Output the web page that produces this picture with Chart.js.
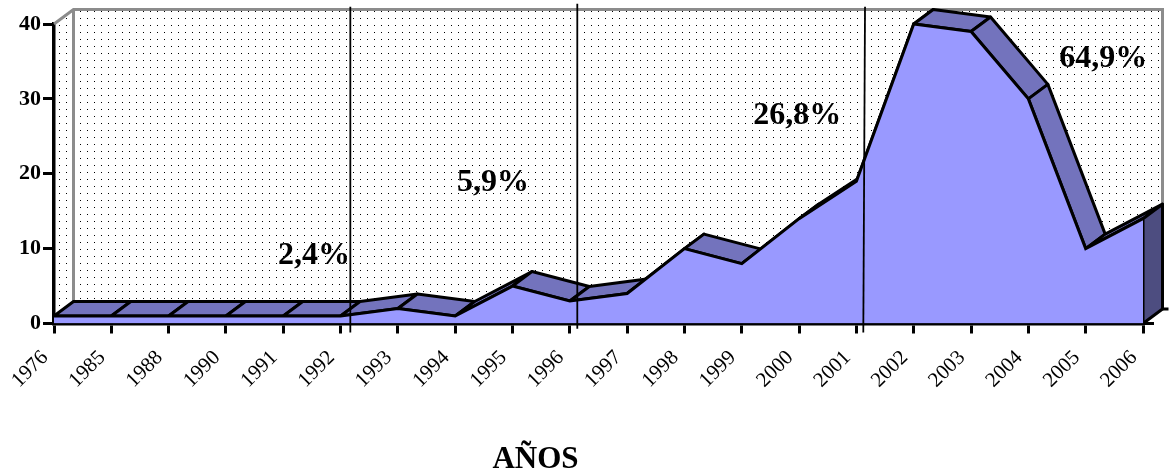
<!DOCTYPE html>
<html>
<head>
<meta charset="utf-8">
<script src="https://cdn.jsdelivr.net/npm/chart.js@4"></script>
<style>
    html, body { margin: 0; background: #fff; }
    canvas { display: block; }
</style>
</head>
<body>
<canvas id="chart" width="1169" height="475"></canvas>
<script>
const years = ['1976', '1985', '1988', '1990', '1991', '1992', '1993', '1994', '1995', '1996',
    '1997', '1998', '1999', '2000', '2001', '2002', '2003', '2004', '2005', '2006'];
const values = [1, 1, 1, 1, 1, 1, 2, 1, 5, 3, 4, 10, 8, 14, 19, 40, 39, 30, 10, 14];
const yTicks = [0, 10, 20, 30, 40];
const shares = ['2,4%', '5,9%', '26,8%', '64,9%'];
const axisName = 'AÑOS';

// fake 3D depth of the area, in pixels
const depthX = 19.5;
const depthY = -14.5;

const serif = '"Liberation Serif", "Times New Roman", serif';

const wallPlugin = {
    id: 'wall',
    beforeDatasetsDraw(chart) {
        const { ctx, scales: { x, y } } = chart;
        const left = x.getPixelForValue(0);
        const right = x.getPixelForValue(years.length - 1);
        const top = y.getPixelForValue(40);
        const bottom = y.getPixelForValue(0);

        ctx.save();

        // dotted back and side wall
        ctx.save();
        ctx.beginPath();
        ctx.moveTo(left, top);
        ctx.lineTo(left + depthX, top + depthY);
        ctx.lineTo(right + depthX, top + depthY);
        ctx.lineTo(right + depthX, bottom + depthY);
        ctx.lineTo(left, bottom);
        ctx.closePath();
        ctx.clip();
        ctx.fillStyle = '#000';
        for (let py = 4; py < bottom; py += 7) {
            for (let px = 3; px < right + depthX; px += 7) {
                ctx.fillRect(px, py, 1, 1);
            }
        }
        ctx.restore();

        // grey wall outline
        ctx.strokeStyle = '#8c8c8c';
        ctx.lineWidth = 3;
        ctx.beginPath();
        ctx.moveTo(left, top);
        ctx.lineTo(left + depthX, top + depthY);
        ctx.lineTo(right + depthX, top + depthY);
        ctx.lineTo(right + depthX, bottom + depthY);
        ctx.moveTo(left + depthX, top + depthY);
        ctx.lineTo(left + depthX, bottom + depthY);
        ctx.stroke();

        // top face of the area, one quad per segment
        ctx.strokeStyle = '#000';
        ctx.lineWidth = 3;
        ctx.lineJoin = 'round';
        ctx.fillStyle = '#7373bd';
        for (let i = 0; i < values.length - 1; i++) {
            const x0 = x.getPixelForValue(i);
            const x1 = x.getPixelForValue(i + 1);
            const y0 = y.getPixelForValue(values[i]);
            const y1 = y.getPixelForValue(values[i + 1]);
            ctx.beginPath();
            ctx.moveTo(x0, y0);
            ctx.lineTo(x1, y1);
            ctx.lineTo(x1 + depthX, y1 + depthY);
            ctx.lineTo(x0 + depthX, y0 + depthY);
            ctx.closePath();
            ctx.fill();
            ctx.stroke();
        }

        // dark end face
        const yLast = y.getPixelForValue(values[values.length - 1]);
        ctx.fillStyle = '#4d4d80';
        ctx.beginPath();
        ctx.moveTo(right, yLast);
        ctx.lineTo(right + depthX, yLast + depthY);
        ctx.lineTo(right + depthX, bottom + depthY);
        ctx.lineTo(right, bottom);
        ctx.closePath();
        ctx.fill();
        ctx.stroke();

        // little axis stubs on the right
        ctx.beginPath();
        ctx.moveTo(right, bottom);
        ctx.lineTo(right + 11, bottom);
        ctx.moveTo(right + depthX, bottom + depthY);
        ctx.lineTo(right + depthX + 6, bottom + depthY);
        ctx.stroke();

        ctx.restore();
    }
};

const notesPlugin = {
    id: 'notes',
    afterDraw(chart) {
        const { ctx, scales: { x, y } } = chart;
        ctx.save();

        // vertical dividers, given as [index at top, index at bottom, top value, bottom value]
        const dividers = [[5.17, 5.17, 42.3, -1.2], [9.13, 9.13, 42.7, -0.7], [14.15, 14.12, 42.3, -1.2]];
        ctx.strokeStyle = '#000';
        ctx.lineWidth = 1.8;
        dividers.forEach((d) => {
            ctx.beginPath();
            ctx.moveTo(x.getPixelForValue(d[0]), y.getPixelForValue(d[2]));
            ctx.lineTo(x.getPixelForValue(d[1]), y.getPixelForValue(d[3]));
            ctx.stroke();
        });

        // share labels, anchored by category index and value
        const anchors = [[3.91, 7.9], [7.03, 17.65], [12.2, 26.7], [17.54, 34.3]];
        ctx.fillStyle = '#000';
        ctx.font = 'bold 32px ' + serif;
        ctx.textAlign = 'left';
        ctx.textBaseline = 'alphabetic';
        shares.forEach((text, i) => {
            ctx.fillText(text, x.getPixelForValue(anchors[i][0]), y.getPixelForValue(anchors[i][1]));
        });

        ctx.font = 'bold 31px ' + serif;
        ctx.textAlign = 'center';
        ctx.fillText(axisName, x.getPixelForValue(8.4), 468);

        ctx.restore();
    }
};

new Chart(document.getElementById('chart'), {
    type: 'line',
    data: {
        labels: years,
        datasets: [{
            data: values,
            fill: 'origin',
            backgroundColor: '#9999ff',
            borderColor: '#000',
            borderWidth: 3,
            tension: 0,
            pointRadius: 0,
            clip: false
        }]
    },
    options: {
        responsive: false,
        animation: false,
        layout: { padding: { top: 24, right: 26, bottom: 0, left: 0 } },
        plugins: { legend: { display: false }, tooltip: { enabled: false } },
        scales: {
            x: {
                offset: false,
                z: 1,
                grid: { drawOnChartArea: false, color: '#000', lineWidth: 3, tickLength: 10 },
                border: { color: '#000', width: 3.5 },
                ticks: {
                    color: '#000',
                    font: { family: serif, size: 21 },
                    minRotation: 45,
                    maxRotation: 45,
                    autoSkip: false,
                    padding: 12,
                    labelOffset: -9
                },
                afterFit(scale) {
                    scale.height = 151.5;
                    scale.paddingLeft = 0;
                    scale.paddingRight = 0;
                }
            },
            y: {
                min: 0,
                max: 40,
                z: 1,
                afterBuildTicks(scale) { scale.ticks = yTicks.map((v) => ({ value: v })); },
                grid: { drawOnChartArea: false, color: '#000', lineWidth: 3, tickLength: 11 },
                border: { color: '#000', width: 3.5 },
                ticks: {
                    color: '#000',
                    font: { family: serif, size: 22, weight: 'bold' },
                    padding: 2
                },
                afterFit(scale) { scale.width = 54; }
            }
        }
    },
    plugins: [wallPlugin, notesPlugin]
});
</script>
</body>
</html>
